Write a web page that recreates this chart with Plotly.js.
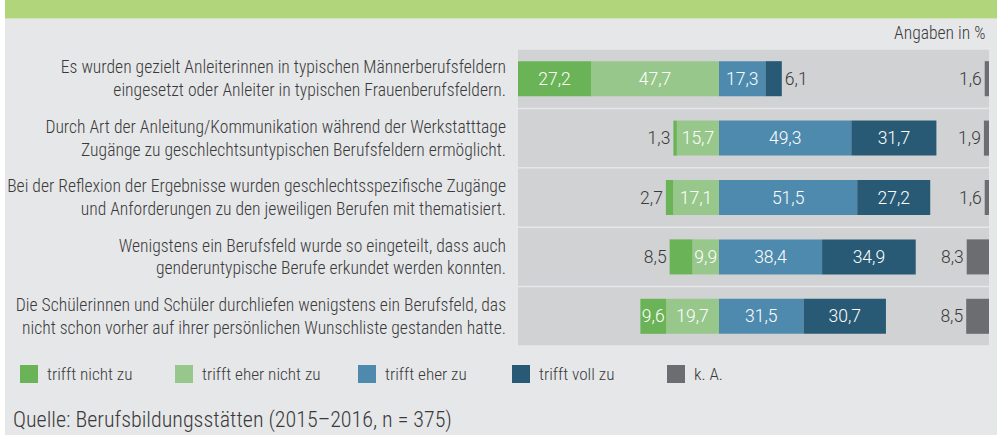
<!DOCTYPE html>
<html><head><meta charset="utf-8">
<script src="https://cdn.plot.ly/plotly-3.0.1.min.js"></script>
<style>html,body{margin:0;padding:0;background:#fff;}#chart{width:1002px;height:435px;}</style>
</head><body><div id="chart"></div>
<script>
// ---- data ----
const categories = [
  'Es wurden gezielt Anleiterinnen in typischen Männerberufsfeldern<br>eingesetzt oder Anleiter in typischen Frauenberufsfeldern.',
  'Durch Art der Anleitung/Kommunikation während der Werkstatttage<br>Zugänge zu geschlechtsuntypischen Berufsfeldern ermöglicht.',
  'Bei der Reflexion der Ergebnisse wurden geschlechtsspezifische Zugänge<br>und Anforderungen zu den jeweiligen Berufen mit thematisiert.',
  'Wenigstens ein Berufsfeld wurde so eingeteilt, dass auch<br>genderuntypische Berufe erkundet werden konnten.',
  'Die Schülerinnen und Schüler durchliefen wenigstens ein Berufsfeld, das<br>nicht schon vorher auf ihrer persönlichen Wunschliste gestanden hatte.'
];
const trifftNichtZu     = [27.2, 1.3, 2.7, 8.5, 9.6];
const trifftEherNichtZu = [47.7, 15.7, 17.1, 9.9, 19.7];
const trifftEherZu      = [17.3, 49.3, 51.5, 38.4, 31.5];
const trifftVollZu      = [6.1, 31.7, 27.2, 34.9, 30.7];
const keineAngabe       = [1.6, 1.9, 1.6, 8.3, 8.5];
const seriesNames = ['trifft nicht zu', 'trifft eher nicht zu', 'trifft eher zu', 'trifft voll zu', 'k. A.'];
const unitNote = 'Angaben in %';
const sourceNote = 'Quelle: Berufsbildungsstätten (2015–2016, n = 375)';

// ---- style ----
const colors = ['#6ab356', '#98c78b', '#4e8aad', '#285a75', '#6c6d70'];
const W = 1002, H = 435;
const M = {l: 518, r: 13, t: 49, b: 89};
const PW = W - M.l - M.r, PH = H - M.t - M.b;
const px2x = p => (p - M.l) / PW;
const px2y = p => (H - M.b - p) / PH;
const labelFont = 'Roboto Condensed, Open Sans, sans-serif';
const numFont = 'Roboto, Open Sans, sans-serif';
const darkText = '#3a3a3a';

const fmt = v => v.toFixed(1).replace('.', ',');
const pos = arr => arr.map(v => v < 9 ? 'outside' : 'inside');

const negMax = Math.max(...trifftNichtZu.map((v, i) => v + trifftEherNichtZu[i]));
const xMin = -negMax;
const xMax = 100.6;

function barTrace(name, color, x, base, positions, axis) {
  return {
    type: 'bar', orientation: 'h', name: name, y: categories, x: x, base: base,
    xaxis: axis || 'x', yaxis: 'y',
    marker: {color: color, line: {width: 0}}, width: 0.59,
    text: x.map(v => fmt(Math.abs(v))), textposition: positions, textangle: 0,
    insidetextanchor: 'middle', constraintext: 'none', cliponaxis: false,
    insidetextfont: {family: numFont, size: 17.5, weight: 300, color: '#ffffff'},
    outsidetextfont: {family: numFont, size: 17.5, weight: 300, color: darkText},
    hoverinfo: 'skip', showlegend: false
  };
}

const traces = [
  barTrace(seriesNames[1], colors[1], trifftEherNichtZu.map(v => -v), trifftEherNichtZu.map(() => 0), pos(trifftEherNichtZu)),
  barTrace(seriesNames[0], colors[0], trifftNichtZu.map(v => -v), trifftEherNichtZu.map(v => -v), pos(trifftNichtZu)),
  barTrace(seriesNames[2], colors[2], trifftEherZu, trifftEherZu.map(() => 0), pos(trifftEherZu)),
  barTrace(seriesNames[3], colors[3], trifftVollZu, trifftEherZu, pos(trifftVollZu)),
  barTrace(seriesNames[4], colors[4], keineAngabe, keineAngabe.map(() => 0), keineAngabe.map(() => 'outside'), 'x2')
];

const shapes = [];
// page background and header band
shapes.push({type: 'rect', xref: 'paper', yref: 'paper', x0: px2x(5), x1: px2x(997), y0: px2y(H), y1: px2y(18.5),
  fillcolor: '#e6e7e9', line: {width: 0}, layer: 'below'});
shapes.push({type: 'rect', xref: 'paper', yref: 'paper', x0: px2x(5), x1: px2x(997), y0: px2y(18.5), y1: px2y(0),
  fillcolor: '#b0d57a', line: {width: 0}, layer: 'below'});
// row panels
categories.forEach((c, i) => {
  shapes.push({type: 'rect', xref: 'paper', yref: 'y', x0: 0, x1: 1, y0: i - 0.487, y1: i + 0.487,
    fillcolor: '#d1d2d4', line: {width: 0}, layer: 'below'});
});

const annotations = [
  {xref: 'paper', yref: 'paper', x: px2x(987), y: px2y(33), xanchor: 'right', yanchor: 'middle', showarrow: false,
   text: unitNote, font: {family: labelFont, size: 17.6, weight: 300, color: darkText}},
  {xref: 'paper', yref: 'paper', x: px2x(12), y: px2y(434), xanchor: 'left', yanchor: 'bottom', showarrow: false,
   borderpad: 0, text: sourceNote, font: {family: labelFont, size: 22, weight: 300, color: darkText}}
];
// legend (manual, squares + labels)
const legendX = [20, 175, 358, 512, 667];
seriesNames.forEach((n, i) => {
  shapes.push({type: 'rect', xref: 'paper', yref: 'paper', x0: px2x(legendX[i]), x1: px2x(legendX[i] + 18),
    y0: px2y(383), y1: px2y(365), fillcolor: colors[i], line: {width: 0}});
  annotations.push({xref: 'paper', yref: 'paper', x: px2x(legendX[i] + 25), y: px2y(374), xanchor: 'left', yanchor: 'middle',
    showarrow: false, text: n, font: {family: labelFont, size: 17.2, weight: 300, color: darkText}});
});

const layout = {
  width: W, height: H, margin: M,
  paper_bgcolor: '#ffffff', plot_bgcolor: 'rgba(0,0,0,0)',
  barmode: 'overlay', showlegend: false,
  xaxis: {range: [xMin, xMax], visible: false, fixedrange: true},
  xaxis2: {range: [xMax - xMin, 0], overlaying: 'x', visible: false, fixedrange: true},
  yaxis: {type: 'category', range: [categories.length - 0.5, -0.5], showgrid: false, zeroline: false,
    showline: false, ticks: '', ticklabelstandoff: 11,
    tickfont: {family: labelFont, size: 17.6, weight: 300, color: darkText}},
  shapes: shapes, annotations: annotations
};

Plotly.newPlot('chart', traces, layout, {displayModeBar: false, staticPlot: true});
</script></body></html>
